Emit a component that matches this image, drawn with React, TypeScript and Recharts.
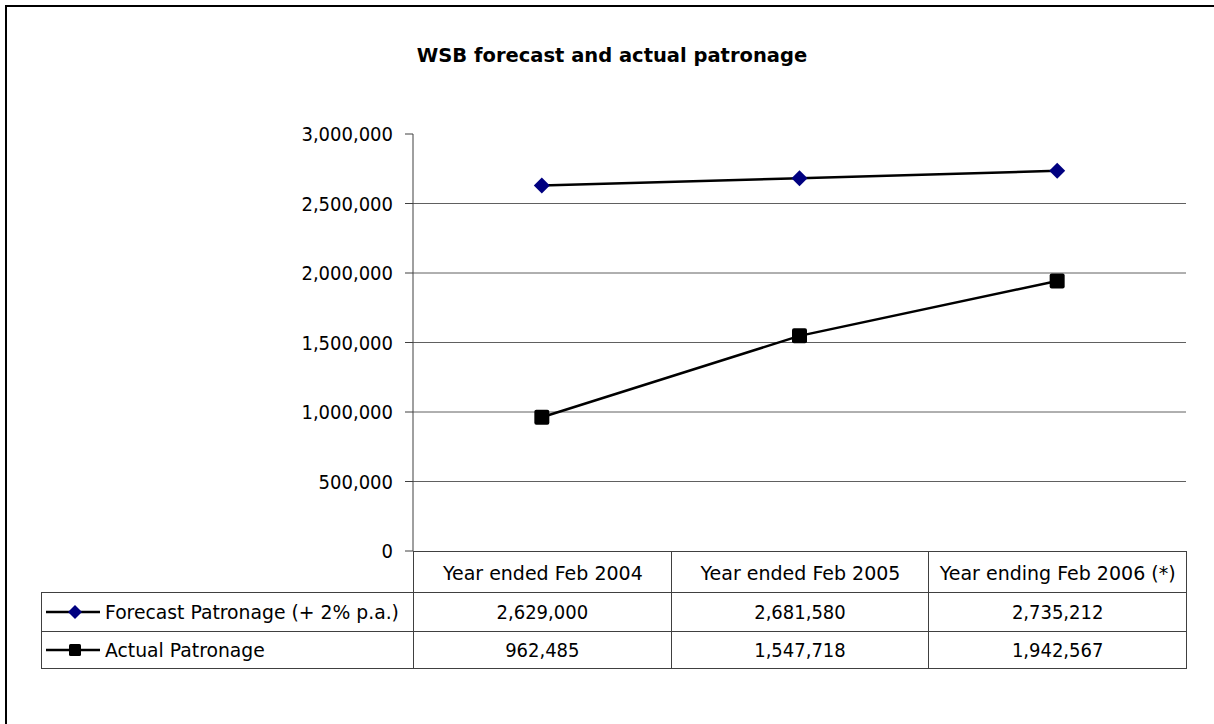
import React from "react";
import { LineChart, Line, XAxis, YAxis, ReferenceLine } from "recharts";

const categories = ["Year ended Feb 2004", "Year ended Feb 2005", "Year ending Feb 2006 (*)"];
const forecastValues = [2629000, 2681580, 2735212];
const actualValues = [962485, 1547718, 1942567];
const yTicks = [0, 500000, 1000000, 1500000, 2000000, 2500000, 3000000];
const gridValues = [500000, 1000000, 1500000, 2000000, 2500000];
const seriesNames = ["Forecast Patronage (+ 2% p.a.)", "Actual Patronage"];

const data = categories.map((name, i) => ({
  idx: i,
  name,
  forecast: forecastValues[i],
  actual: actualValues[i],
}));

// letters in regular DejaVu, digits in the condensed cut (closer to the original's Tahoma)
const FONT = "'DejaVu Sans', sans-serif";
const NUM_FONT = "'DejaVu Sans Condensed', 'DejaVu Sans', sans-serif";
const W = 1214;
const H = 724;
const PLOT_LEFT = 413;
const PLOT_RIGHT = 1186;
const PLOT_TOP = 134;
const PLOT_BOTTOM = 551;
const COL_W = (PLOT_RIGHT - PLOT_LEFT) / categories.length;
const LEGEND_LEFT = 41;
const ROW_TOPS = [592, 631, 668];
const LINE = "#404040";

const fmt = (v: number) => v.toLocaleString("en-US");

const Diamond = (props: any) => {
  const { cx, cy, index } = props;
  if (cx == null || cy == null) return null;
  const s = 8;
  return (
    <polygon
      key={`d-${index}`}
      points={`${cx},${cy - s} ${cx + s},${cy} ${cx},${cy + s} ${cx - s},${cy}`}
      fill="#000080"
    />
  );
};

const Square = (props: any) => {
  const { cx, cy, index } = props;
  if (cx == null || cy == null) return null;
  const s = 7.5;
  return <rect key={`s-${index}`} x={cx - s} y={cy - s} width={s * 2} height={s * 2} rx={2} fill="#000" />;
};

function LegendKey({ kind }: { kind: "diamond" | "square" }) {
  return (
    <svg width={56} height={20} style={{ position: "absolute", left: 4, top: "50%", marginTop: -10 }}>
      <line x1={0} y1={10} x2={54} y2={10} stroke="#000" strokeWidth={2.5} />
      {kind === "diamond" ? (
        <polygon points="29,3 36,10 29,17 22,10" fill="#000080" />
      ) : (
        <rect x={23} y={4} width={12} height={12} rx={1.5} fill="#000" />
      )}
    </svg>
  );
}

const cellText: React.CSSProperties = {
  position: "absolute",
  boxSizing: "border-box",
  display: "flex",
  alignItems: "center",
  justifyContent: "center",
  fontFamily: FONT,
  fontSize: 19,
  color: "#000",
  whiteSpace: "nowrap",
};

export default function App() {
  const rows = [forecastValues, actualValues];
  return (
    <div style={{ position: "absolute", left: 0, top: 0, width: W, height: H, background: "#fff", overflow: "hidden" }}>
      <div
        style={{
          position: "absolute",
          left: 5,
          top: 5,
          right: -10,
          bottom: -10,
          borderTop: "2px solid #000",
          borderLeft: "2px solid #000",
        }}
      />
      <div
        style={{
          position: "absolute",
          left: 0,
          width: W,
          top: 44,
          textAlign: "center",
          paddingLeft: 5,
          fontFamily: FONT,
          fontWeight: "bold",
          fontSize: 19.5,
          color: "#000",
        }}
      >
        WSB forecast and actual patronage
      </div>
      <div style={{ position: "absolute", left: 0, top: 0 }}>
        <LineChart
          width={W}
          height={H}
          data={data}
          margin={{ top: PLOT_TOP, right: W - PLOT_RIGHT, left: 0, bottom: H - PLOT_BOTTOM }}
        >
          <XAxis dataKey="idx" type="number" domain={[-0.5, categories.length - 0.5]} hide height={0} />
          <YAxis
            width={PLOT_LEFT}
            domain={[0, 3000000]}
            ticks={yTicks}
            interval={0}
            tickFormatter={fmt}
            tick={{ fill: "#000", fontSize: 20, fontFamily: NUM_FONT }}
            axisLine={{ stroke: LINE }}
            tickLine={{ stroke: LINE }}
            tickSize={8}
            tickMargin={12}
          />
          {gridValues.map((v) => (
            <ReferenceLine key={v} y={v} stroke="#606060" strokeWidth={1} />
          ))}
          <Line
            dataKey="forecast"
            stroke="#000"
            strokeWidth={2.5}
            dot={Diamond}
            activeDot={false}
            isAnimationActive={false}
          />
          <Line
            dataKey="actual"
            stroke="#000"
            strokeWidth={2.5}
            dot={Square}
            activeDot={false}
            isAnimationActive={false}
          />
        </LineChart>
      </div>

      {/* data table under the plot */}
      {categories.map((c, i) => (
        <div
          key={c}
          style={{
            ...cellText,
            left: PLOT_LEFT + i * COL_W,
            top: PLOT_BOTTOM,
            width: COL_W + 1,
            height: ROW_TOPS[0] - PLOT_BOTTOM + 1,
            borderLeft: `1px solid ${LINE}`,
            borderTop: `1px solid ${LINE}`,
            borderRight: i === categories.length - 1 ? `1px solid ${LINE}` : undefined,
          }}
        >
          {c}
        </div>
      ))}
      {rows.map((vals, r) => (
        <React.Fragment key={seriesNames[r]}>
          <div
            style={{
              ...cellText,
              fontSize: 18.8,
              justifyContent: "flex-start",
              paddingLeft: 63,
              left: LEGEND_LEFT,
              top: ROW_TOPS[r],
              width: PLOT_LEFT - LEGEND_LEFT + 1,
              height: ROW_TOPS[r + 1] - ROW_TOPS[r] + 1,
              border: `1px solid ${LINE}`,
            }}
          >
            <LegendKey kind={r === 0 ? "diamond" : "square"} />
            {seriesNames[r]}
          </div>
          {vals.map((v, i) => (
            <div
              key={i}
              style={{
                ...cellText,
                fontFamily: NUM_FONT,
                fontSize: 20,
                left: PLOT_LEFT + i * COL_W,
                top: ROW_TOPS[r],
                width: COL_W + 1,
                height: ROW_TOPS[r + 1] - ROW_TOPS[r] + 1,
                border: `1px solid ${LINE}`,
              }}
            >
              {fmt(v)}
            </div>
          ))}
        </React.Fragment>
      ))}
    </div>
  );
}
